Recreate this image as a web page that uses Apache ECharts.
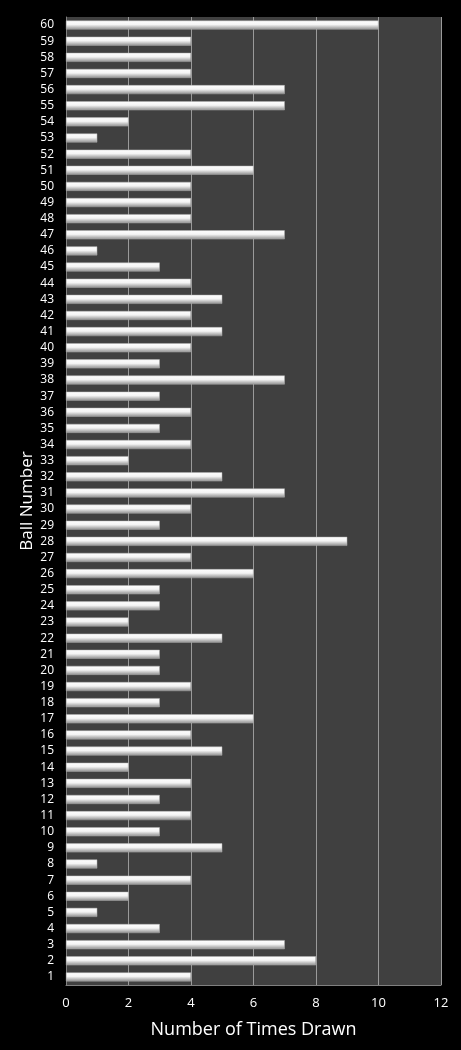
<!DOCTYPE html>
<html><head><meta charset="utf-8">
<script src="https://cdn.jsdelivr.net/npm/echarts@6/dist/echarts.min.js"></script>
<style>html,body{margin:0;padding:0;background:#000;}#c{width:461px;height:1050px;}</style>
</head><body><div id="c"></div>
<script>
var categories = [];
for (var i = 1; i <= 60; i++) categories.push(String(i));
var timesDrawn = [4,8,7,3,1,2,4,1,5,3, 4,3,4,2,5,4,6,3,4,3, 3,5,2,3,3,6,4,9,3,4, 7,5,2,4,3,4,3,7,3,4, 5,4,5,4,3,1,7,4,4,4, 6,4,1,2,7,7,4,4,4,10];
var xTicks = [0,2,4,6,8,10,12];
var FONT = 'Open Sans';
var chart = echarts.init(document.getElementById('c'));
chart.setOption({
  backgroundColor: '#000',
  animation: false,
  grid: {left: 66, right: 20, top: 17, bottom: 65, show: true, backgroundColor: '#404040', borderWidth: 0},
  xAxis: {
    type: 'value', min: xTicks[0], max: xTicks[xTicks.length-1], interval: 2,
    name: 'Number of Times Drawn', nameLocation: 'middle', nameGap: 36, nameMoveOverlap: false,
    nameTextStyle: {color: '#fff', fontSize: 18, fontFamily: FONT},
    axisLine: {show: true, lineStyle: {color: '#808080'}},
    axisTick: {show: false},
    axisLabel: {color: '#fff', fontSize: 13, fontFamily: FONT, margin: 12},
    splitLine: {show: true, lineStyle: {color: '#9a9a9a', width: 1}}
  },
  yAxis: {
    type: 'category', data: categories,
    name: 'Ball Number', nameLocation: 'middle', nameGap: 30, nameMoveOverlap: false,
    nameTextStyle: {color: '#fff', fontSize: 17, fontFamily: FONT},
    axisLine: {show: true, lineStyle: {color: '#808080'}},
    axisTick: {show: false},
    axisLabel: {color: '#fff', fontSize: 12, fontFamily: FONT, margin: 12, interval: 0}
  },
  series: [{
    type: 'bar', data: timesDrawn, barWidth: 9,
    itemStyle: {
      color: new echarts.graphic.LinearGradient(0,0,0,1,[
        {offset:0, color:'#ffffff'},{offset:0.45, color:'#f4f4f4'},{offset:1, color:'#8c8c8c'}
      ]),
      borderColor: '#b0b0b0', borderWidth: 0.5
    }
  }]
});
</script></body></html>
